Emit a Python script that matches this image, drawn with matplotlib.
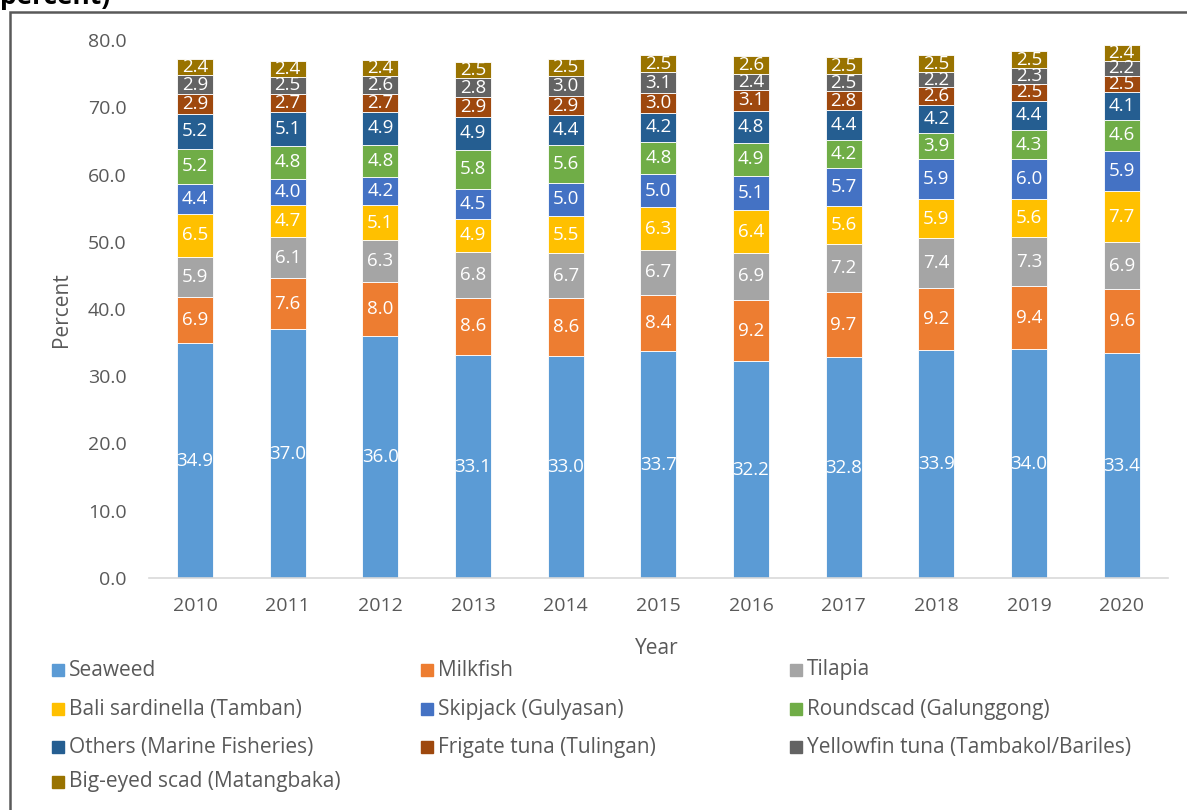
import matplotlib
matplotlib.use("Agg")
import matplotlib.pyplot as plt
import numpy as np
from matplotlib.patches import Rectangle

plt.rcParams["font.family"] = ["Open Sans", "DejaVu Sans"]

years = ["2010", "2011", "2012", "2013", "2014", "2015", "2016", "2017", "2018", "2019", "2020"]

seaweed   = [34.9, 37.0, 36.0, 33.1, 33.0, 33.7, 32.2, 32.8, 33.9, 34.0, 33.4]
milkfish  = [6.9, 7.6, 8.0, 8.6, 8.6, 8.4, 9.2, 9.7, 9.2, 9.4, 9.6]
tilapia   = [5.9, 6.1, 6.3, 6.8, 6.7, 6.7, 6.9, 7.2, 7.4, 7.3, 6.9]
tamban    = [6.5, 4.7, 5.1, 4.9, 5.5, 6.3, 6.4, 5.6, 5.9, 5.6, 7.7]
skipjack  = [4.4, 4.0, 4.2, 4.5, 5.0, 5.0, 5.1, 5.7, 5.9, 6.0, 5.9]
roundscad = [5.2, 4.8, 4.8, 5.8, 5.6, 4.8, 4.9, 4.2, 3.9, 4.3, 4.6]
others    = [5.2, 5.1, 4.9, 4.9, 4.4, 4.2, 4.8, 4.4, 4.2, 4.4, 4.1]
frigate   = [2.9, 2.7, 2.7, 2.9, 2.9, 3.0, 3.1, 2.8, 2.6, 2.5, 2.5]
yellowfin = [2.9, 2.5, 2.6, 2.8, 3.0, 3.1, 2.4, 2.5, 2.2, 2.3, 2.2]
bigeyed   = [2.4, 2.4, 2.4, 2.5, 2.5, 2.5, 2.6, 2.5, 2.5, 2.5, 2.4]

series = [
    ("Seaweed", seaweed, "#5B9BD5"),
    ("Milkfish", milkfish, "#ED7D31"),
    ("Tilapia", tilapia, "#A5A5A5"),
    ("Bali sardinella (Tamban)", tamban, "#FFC000"),
    ("Skipjack (Gulyasan)", skipjack, "#4472C4"),
    ("Roundscad (Galunggong)", roundscad, "#70AD47"),
    ("Others (Marine Fisheries)", others, "#255E91"),
    ("Frigate tuna (Tulingan)", frigate, "#9E480E"),
    ("Yellowfin tuna (Tambakol/Bariles)", yellowfin, "#636363"),
    ("Big-eyed scad (Matangbaka)", bigeyed, "#997300"),
]

W, H = 1187, 810
fig = plt.figure(figsize=(W / 100, H / 100), dpi=100)
ax = fig.add_axes([148.7 / W, 1 - 578 / H, (1168 - 148.7) / W, 538 / H])

x = np.arange(len(years))
bottom = np.zeros(len(years))
for name, vals, color in series:
    vals = np.array(vals)
    ax.bar(x, vals, 0.39, bottom=bottom, color=color, edgecolor="white", linewidth=0.6)
    for xi, b, v in zip(x, bottom, vals):
        ax.text(xi, b + v / 2, f"{v:.1f}", ha="center", va="center",
                color="white", fontsize=13.5)
    bottom += vals

ax.set_xlim(-0.5, len(years) - 0.5)
ax.set_ylim(0, 80)
ax.set_yticks(np.arange(0, 81, 10))
ax.set_yticklabels([f"{v:.1f}" for v in np.arange(0, 81, 10)])
ax.set_xticks(x)
ax.set_xticklabels(years)
ax.tick_params(axis="both", length=0, labelsize=14, colors="#595959")
ax.tick_params(axis="x", pad=14)
ax.tick_params(axis="y", pad=16)
for s in ["top", "right", "left"]:
    ax.spines[s].set_visible(False)
ax.spines["bottom"].set_color("#D9D9D9")
ax.spines["bottom"].set_linewidth(1.2)

fig.text(657 / W, 1 - 648 / H, "Year", ha="center", va="center", fontsize=15, color="#595959")
fig.text(62 / W, 1 - 310 / H, "Percent", ha="center", va="center", rotation=90,
         fontsize=15, color="#595959")

# legend laid out like the Excel one (row by row, 3 columns)
col_x = [52, 421, 790]
row_y = [670, 709, 747, 782]
for i, (name, vals, color) in enumerate(series):
    cx = col_x[i % 3]
    cy = row_y[i // 3]
    fig.patches.append(Rectangle((cx / W, 1 - (cy + 6) / H), 12 / W, 12 / H,
                                 transform=fig.transFigure, color=color))
    fig.text((cx + 17) / W, 1 - cy / H, name, ha="left", va="center",
             fontsize=15, color="#595959")

# chart frame and cut-off title
fig.patches.append(Rectangle((10 / W, -0.1), 1.2, 1 - 12 / H + 0.1, transform=fig.transFigure,
                             fill=False, edgecolor="#595959", linewidth=1.8))
fig.text(0, 1 - 4 / H, "percent)", ha="left", va="baseline", fontsize=19,
         fontweight="bold", color="black")

fig.savefig("out.png", dpi=100)
